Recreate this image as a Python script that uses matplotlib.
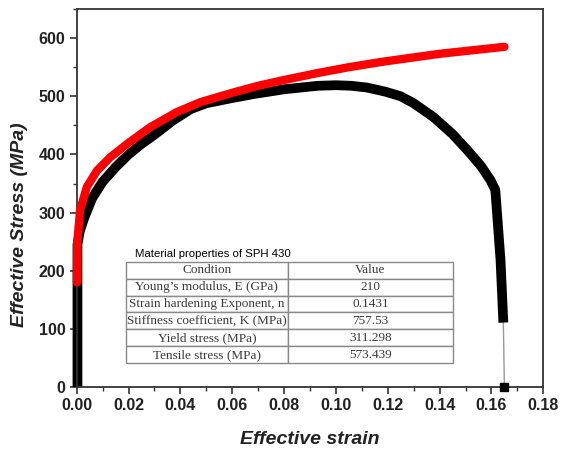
import matplotlib
matplotlib.use("Agg")
import matplotlib.pyplot as plt
from matplotlib.ticker import MultipleLocator

# Experimental effective stress-strain curve (black)
exp_strain = [0.0003, 0.0003, 0.0012, 0.003, 0.006, 0.010, 0.015, 0.020, 0.025, 0.030,
              0.037, 0.044, 0.050, 0.060, 0.0685, 0.080, 0.093, 0.100, 0.106, 0.112,
              0.119, 0.125, 0.130, 0.1377, 0.145, 0.1508, 0.1560, 0.1596, 0.1615,
              0.1635, 0.1646]
exp_stress = [0, 245, 268, 292, 325, 353, 378, 400, 418, 434,
              458, 478, 488, 497, 504, 512, 518, 519, 518, 515,
              508, 500, 488, 464, 435, 407, 380, 356, 339,
              219, 111]

# Fracture drop (thin line) and final point
drop_strain = [0.1646, 0.165]
drop_stress = [111, 0]

# Hollomon fit curve (red)
fit_strain = [0.0001, 0.0002, 0.0013, 0.0039, 0.0078, 0.0129, 0.0194, 0.0284, 0.0387,
              0.0478, 0.060, 0.070, 0.080, 0.093, 0.105, 0.119, 0.140, 0.165]
fit_stress = [180, 247, 304, 344, 372, 395, 418, 447, 473,
              490, 506, 518, 528, 540, 550, 560, 573, 585]

# Table content
table_title = "Material properties of SPH 430"
col_labels = ["Condtion", "Value"]
conditions = ["Young’s modulus, E (GPa)", "Strain hardening Exponent, n",
              "Stiffness coefficient, K (MPa)", "Yield stress (MPa)",
              "Tensile stress (MPa)"]
values = ["210", "0.1431", "757.53", "311.298", "573.439"]

x_ticks = [0.00, 0.02, 0.04, 0.06, 0.08, 0.10, 0.12, 0.14, 0.16, 0.18]
y_ticks = [0, 100, 200, 300, 400, 500, 600]

fig = plt.figure(figsize=(5.61, 4.5), dpi=100)
ax = fig.add_axes([0.1367, 0.1396, 0.8317, 0.8404])

ax.plot(exp_strain, exp_stress, color="black", lw=7.0, solid_capstyle="butt",
        solid_joinstyle="round", zorder=2, clip_on=False)
ax.plot(drop_strain, drop_stress, color="#999999", lw=1.0, zorder=1)
ax.plot([drop_strain[-1]], [drop_stress[-1]], marker="s", color="black",
        markersize=6, clip_on=False, zorder=3)
ax.plot(fit_strain, fit_stress, color="#ff0000", lw=6.0, solid_capstyle="round",
        solid_joinstyle="round", zorder=3, clip_on=False)

ax.set_xlim(0, 0.18)
ax.set_ylim(0, 650)
ax.set_xticks(x_ticks)
ax.set_yticks(y_ticks)
ax.set_xticklabels([f"{v:.2f}" for v in x_ticks])
ax.set_yticklabels([str(v) for v in y_ticks])
ax.xaxis.set_minor_locator(MultipleLocator(0.01))
ax.yaxis.set_minor_locator(MultipleLocator(50))
ax.tick_params(which="major", direction="out", length=5, width=1.2,
               colors="#333333", labelsize=11.5, pad=3)
ax.tick_params(which="minor", direction="out", length=3, width=1.0, colors="#333333")
for lbl in ax.get_xticklabels() + ax.get_yticklabels():
    lbl.set_fontfamily("Liberation Sans")
    lbl.set_fontweight("bold")
    lbl.set_color("#222222")
for s in ax.spines.values():
    s.set_linewidth(1.3)
    s.set_color("#333333")

ax.set_xlabel("Effective strain", fontsize=14, fontweight="bold", style="italic",
              family="Liberation Sans", color="#222222")
ax.set_ylabel("Effective Stress (MPa)", fontsize=14, fontweight="bold",
              style="italic", family="Liberation Sans", color="#222222")
ax.xaxis.set_label_coords(0.5, -0.115)
ax.yaxis.set_label_coords(-0.105, 0.43)

# Inset table
ax.text(0.125, 0.345, table_title, transform=ax.transAxes, fontsize=8.2,
        family="Liberation Sans", va="baseline", ha="left", color="black")
cell_text = [[c, v] for c, v in zip(conditions, values)]
tbl = ax.table(cellText=cell_text, colLabels=col_labels, cellLoc="center",
               bbox=[0.105, 0.0632, 0.7015, 0.2686], colWidths=[0.496, 0.504])
tbl.auto_set_font_size(False)
for (r, c), cell in tbl.get_celld().items():
    cell.set_edgecolor("#888888")
    cell.set_linewidth(1.0)
    cell.set_facecolor("white")
    cell.PAD = 0.02
    t = cell.get_text()
    t.set_fontsize(9.5)
    t.set_fontfamily("Liberation Serif")
    t.set_color("#3a3a3a")
tbl.set_zorder(4)

fig.savefig("out.png", dpi=100)
